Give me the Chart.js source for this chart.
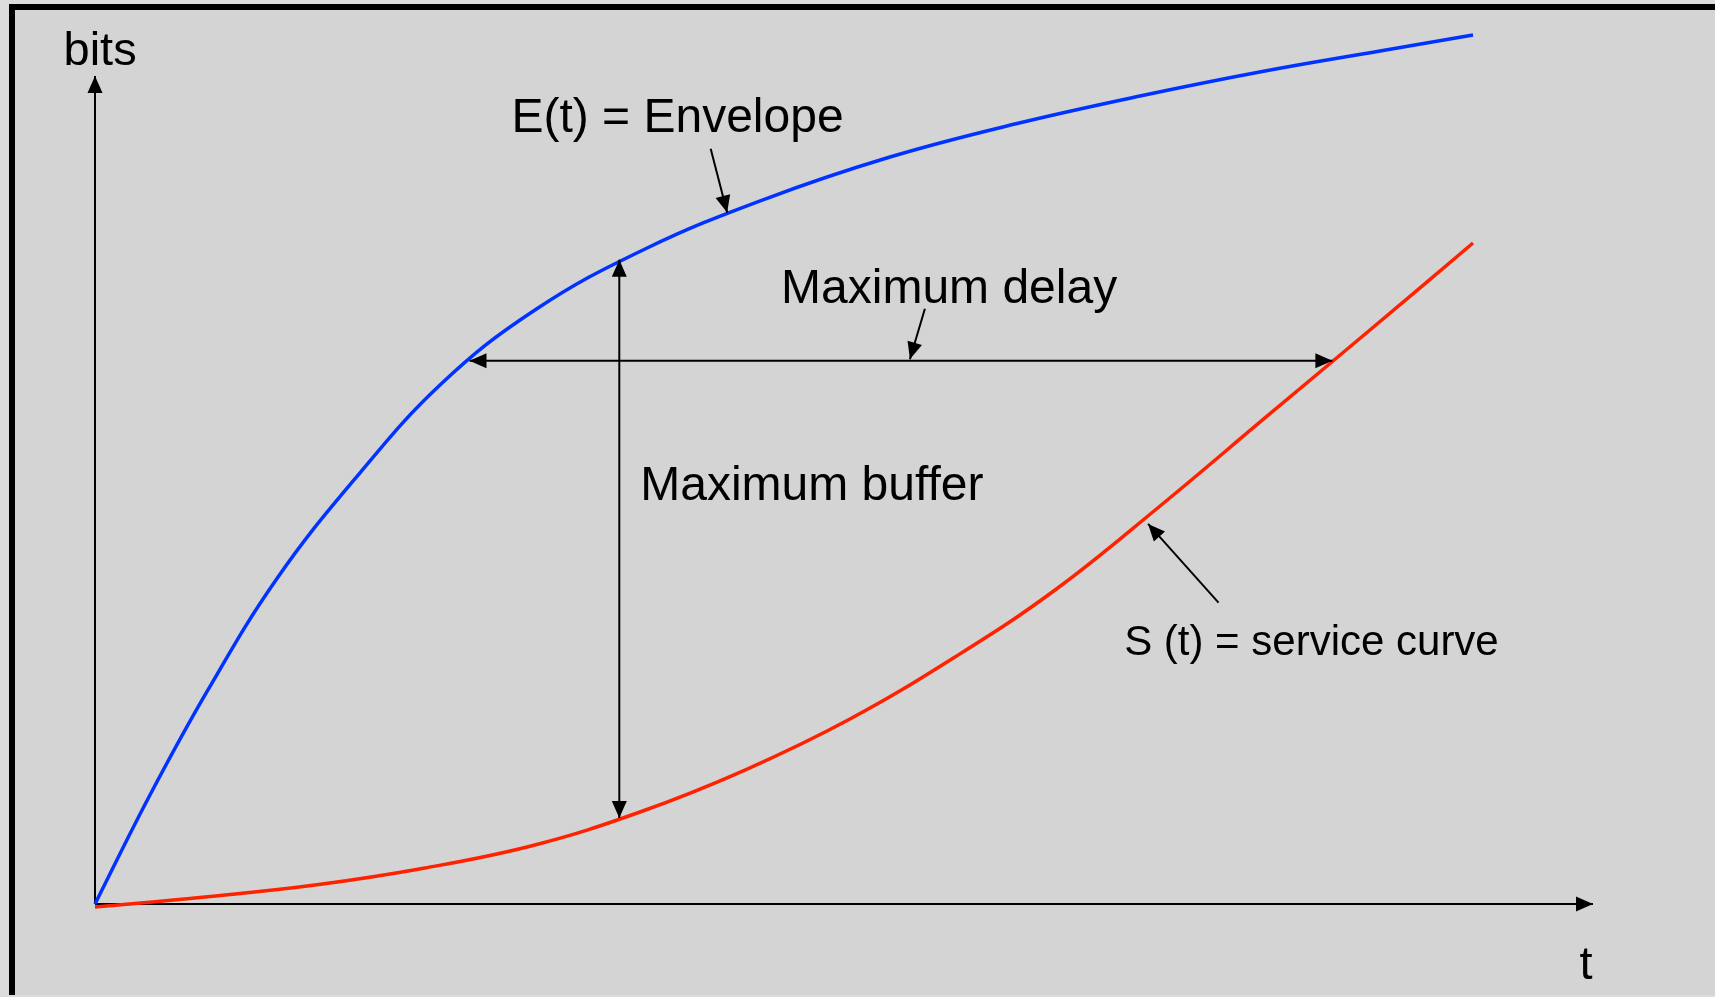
<!DOCTYPE html>
<html>
<head>
<meta charset="utf-8">
<title>Envelope and service curve</title>
<script src="https://cdn.jsdelivr.net/npm/chart.js@4"></script>
<style>
    html, body { margin: 0; padding: 0; overflow: hidden; background: #dcdcdc; }
    canvas { display: block; }
</style>
</head>
<body>
<canvas id="curveChart" width="1715" height="997"></canvas>
<script>
// curve data (t, bits) - unit: 0..100 on both axes
let envelopeT    = [0, 3.67, 7.54, 12.08, 17.29, 23.10, 29.37, 36.72, 44.73, 53.07, 61.41, 69.76, 78.10, 85.78, 91.99];
let envelopeBits = [0, 13.16, 25.85, 39.13, 51.21, 62.80, 71.74, 79.11, 85.14, 90.22, 94.20, 97.58, 100.60, 103.02, 104.95];

let serviceT    = [0, 7.34, 14.69, 22.03, 29.37, 36.38, 43.39, 50.40, 57.41, 64.09, 71.10, 78.10, 85.11, 91.99];
let serviceBits = [-0.36, 0.85, 2.29, 4.35, 7.13, 11.11, 16.18, 22.34, 29.83, 37.92, 48.07, 58.70, 69.32, 79.83];

// labels: text, t, bits (baseline left)
let labelTexts = ["bits", "t", "E(t) = Envelope", "Maximum delay", "Maximum buffer", "S (t) = service curve"];
let labelT     = [-2.1, 99.1, 27.8, 45.8, 36.4, 68.7];
let labelBits  = [101.3, -9.1, 93.2, 72.6, 48.8, 30.1];

// arrows: from (t1,b1) to (t2,b2), double = head on both ends
let arrowFromT = [41.1, 55.4, 75.0, 35.0, 25.0];
let arrowFromB = [91.2, 71.9, 36.4, 77.8, 65.6];
let arrowToT   = [42.2, 54.4, 70.3, 35.0, 82.6];
let arrowToB   = [83.5, 65.8, 45.9, 10.4, 65.6];
let arrowDouble = [false, false, false, true, true];

document.addEventListener("DOMContentLoaded", function () {
    let canvas = document.getElementById("curveChart");
    let ctx = canvas.getContext("2d");

    function toPoints(xs, ys) {
        return xs.map((x, i) => ({ x: x, y: ys[i] }));
    }

    function arrowHead(c, x1, y1, x2, y2) {
        let a = Math.atan2(y2 - y1, x2 - x1);
        let len = 17, half = 7.5;
        c.beginPath();
        c.moveTo(x2, y2);
        c.lineTo(x2 - len * Math.cos(a) + half * Math.sin(a), y2 - len * Math.sin(a) - half * Math.cos(a));
        c.lineTo(x2 - len * Math.cos(a) - half * Math.sin(a), y2 - len * Math.sin(a) + half * Math.cos(a));
        c.closePath();
        c.fill();
    }

    function arrow(c, x1, y1, x2, y2, both) {
        c.beginPath();
        c.moveTo(x1, y1);
        c.lineTo(x2, y2);
        c.stroke();
        arrowHead(c, x1, y1, x2, y2);
        if (both) arrowHead(c, x2, y2, x1, y1);
    }

    // background, frame and axes
    let framePlugin = {
        id: "frame",
        beforeDraw(chart) {
            let c = chart.ctx;
            c.save();
            c.fillStyle = "#dcdcdc";
            c.fillRect(0, 0, chart.width, chart.height);
            c.fillStyle = "#d4d4d4";
            c.fillRect(12, 7, chart.width, chart.height - 9);
            c.strokeStyle = "#000";
            c.lineWidth = 6;
            c.beginPath();
            c.moveTo(12, chart.height - 2);
            c.lineTo(12, 7);
            c.lineTo(chart.width + 5, 7);
            c.stroke();
            c.restore();
        },
        beforeDatasetsDraw(chart) {
            let c = chart.ctx;
            let xs = chart.scales.x, ys = chart.scales.y;
            c.save();
            c.strokeStyle = "#000";
            c.fillStyle = "#000";
            c.lineWidth = 2;
            arrow(c, xs.getPixelForValue(0), ys.getPixelForValue(0), xs.getPixelForValue(0), ys.getPixelForValue(100), false);
            arrow(c, xs.getPixelForValue(0), ys.getPixelForValue(0), xs.getPixelForValue(100), ys.getPixelForValue(0), false);
            c.restore();
        },
        afterDatasetsDraw(chart) {
            let c = chart.ctx;
            let xs = chart.scales.x, ys = chart.scales.y;
            c.save();
            c.strokeStyle = "#000";
            c.fillStyle = "#000";
            c.lineWidth = 2;
            for (let i = 0; i < arrowFromT.length; i++) {
                arrow(c,
                    xs.getPixelForValue(arrowFromT[i]), ys.getPixelForValue(arrowFromB[i]),
                    xs.getPixelForValue(arrowToT[i]), ys.getPixelForValue(arrowToB[i]),
                    arrowDouble[i]);
            }
            c.textBaseline = "alphabetic";
            c.textAlign = "left";
            for (let i = 0; i < labelTexts.length; i++) {
                let size = labelTexts[i].startsWith("S (t)") ? 42 : (labelTexts[i].length < 5 ? 47 : 48);
                c.font = size + "px 'Liberation Sans', Arial, sans-serif";
                c.fillText(labelTexts[i], xs.getPixelForValue(labelT[i]), ys.getPixelForValue(labelBits[i]));
            }
            c.restore();
        }
    };

    new Chart(ctx, {
        type: "line",
        data: {
            datasets: [{
                label: "E(t)",
                data: toPoints(envelopeT, envelopeBits),
                borderColor: "#0033ff",
                borderWidth: 3.5,
                pointRadius: 0,
                tension: 0.4,
                fill: false,
                clip: false
            }, {
                label: "S(t)",
                data: toPoints(serviceT, serviceBits),
                borderColor: "#ff2200",
                borderWidth: 3.5,
                pointRadius: 0,
                tension: 0.4,
                fill: false,
                clip: false
            }]
        },
        options: {
            responsive: false,
            animation: false,
            devicePixelRatio: 1,
            layout: { padding: { left: 95, right: 122, top: 76, bottom: 93 } },
            scales: {
                x: { type: "linear", min: 0, max: 100, display: false },
                y: { type: "linear", min: 0, max: 100, display: false }
            },
            plugins: {
                legend: { display: false },
                tooltip: { enabled: false }
            }
        },
        plugins: [framePlugin]
    });
});
</script>
</body>
</html>
